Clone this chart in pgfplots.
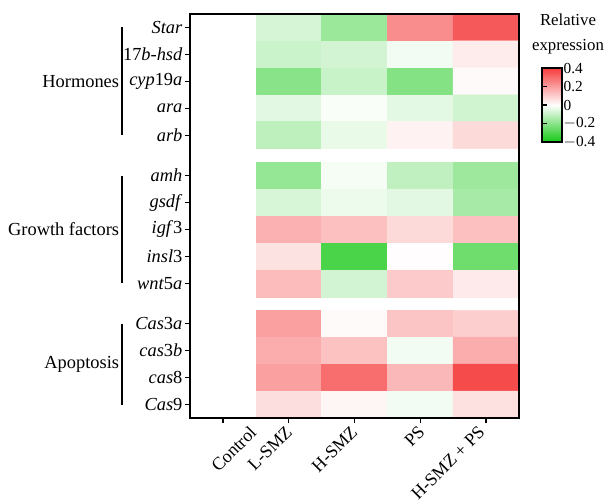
\documentclass[border=0pt]{standalone}
\usepackage{pgfplots}
\pgfplotsset{compat=1.18}
\usepackage{fontspec}
\setmainfont{Liberation Serif}
\pgfplotstableread{
x y v
0 0 0
1 0 -0.07
2 0 -0.17
3 0 0.236
4 0 0.34
0 1 0
1 1 -0.088
2 1 -0.077
3 1 -0.022
4 1 0.04
0 2 0
1 2 -0.20
2 2 -0.094
3 2 -0.21
4 2 0.01
0 3 0
1 3 -0.048
2 3 -0.01
3 3 -0.046
4 3 -0.08
0 4 0
1 4 -0.11
2 4 -0.037
3 4 0.027
4 4 0.076
}\hormones
\pgfplotstableread{
x y v
0 5.5 0
1 5.5 -0.18
2 5.5 -0.017
3 5.5 -0.107
4 5.5 -0.167
0 6.5 0
1 6.5 -0.068
2 6.5 -0.03
3 6.5 -0.05
4 6.5 -0.15
0 7.5 0
1 7.5 0.16
2 7.5 0.13
3 7.5 0.076
4 7.5 0.13
0 8.5 0
1 8.5 0.06
2 8.5 -0.31
3 8.5 0.005
4 8.5 -0.247
0 9.5 0
1 9.5 0.137
2 9.5 -0.077
3 9.5 0.11
4 9.5 0.043
}\growth
\pgfplotstableread{
x y v
0 11 0
1 11 0.195
2 11 0.01
3 11 0.12
4 11 0.10
0 12 0
1 12 0.17
2 12 0.125
3 12 -0.02
4 12 0.17
0 13 0
1 13 0.195
2 13 0.30
3 13 0.145
4 13 0.37
0 14 0
1 14 0.068
2 14 0.02
3 14 -0.022
4 14 0.064
}\apoptosis
\begin{document}
\begin{tikzpicture}
\path[use as bounding box] (-142.5pt,-62.25pt) rectangle (313.5pt,313.5pt);
\begin{axis}[
  at={(0pt,0pt)}, anchor=south west,
  scale only axis, width=246.75pt, height=303pt,
  xmin=-0.5, xmax=4.5, ymin=-0.5, ymax=14.5, y dir=reverse,
  axis on top,
  axis line style={line width=1.2pt},
  xtick={0,...,4}, xticklabels={},
  ytick={0,1,2,3,4,5.5,6.5,7.5,8.5,9.5,11,12,13,14},
  yticklabels={\textit{Star}, 17\textit{b-hsd}, \textit{cyp}19\textit{a}, \textit{ara}, \textit{arb}, \textit{amh}, \textit{gsdf}, \textit{igf}3, \textit{insl}3, \textit{wnt}5\textit{a}, \textit{Cas}3\textit{a}, \textit{cas}3\textit{b}, \textit{cas}8, \textit{Cas}9},
  tick align=outside, tick pos=left, major tick length=4pt,
  tick style={line width=1pt, black},
  yticklabel style={font=\fontsize{13.8}{16}\selectfont, inner sep=1.5pt},
  colormap={rg}{rgb255(0cm)=(20,200,20); rgb255(1cm)=(255,255,255); rgb255(2cm)=(245,60,60)},
  point meta min=-0.4, point meta max=0.4,
  colorbar,
  colorbar style={
    at={(1.0699,0.8663)}, anchor=north west,
    scale only axis, width=15pt, height=55.5pt,
    axis line style={line width=1.2pt},
    ytick={-0.4,-0.2,0,0.2,0.4},
    yticklabels={$-$0.4,$-$0.2,0,0.2,0.4},
    yticklabel pos=right,
    ytick pos=left,
    tick align=inside, major tick length=4pt,
    tick style={line width=1pt, black},
    yticklabel style={font=\fontsize{11.5}{12}\selectfont, inner sep=1pt},
  },
]
\addplot[matrix plot*, mesh/cols=5, point meta=explicit] table[x=x, y=y, meta=v] {\hormones};
\addplot[matrix plot*, mesh/cols=5, point meta=explicit] table[x=x, y=y, meta=v] {\growth};
\addplot[matrix plot*, mesh/cols=5, point meta=explicit] table[x=x, y=y, meta=v] {\apoptosis};
\end{axis}
% group brackets
\draw[line width=1.1pt] (-51pt,292.9pt) -- (-51pt,212.1pt);
\draw[line width=1.1pt] (-51pt,181.8pt) -- (-51pt,101pt);
\draw[line width=1.1pt] (-51pt,70.7pt) -- (-51pt,10.1pt);
\begin{scope}[every node/.style={font=\fontsize{13.8}{16}\selectfont, anchor=east, inner sep=0pt}]
\node at (-53pt,252.5pt) {Hormones};
\node at (-53pt,141.4pt) {Growth factors};
\node at (-53pt,40.4pt) {Apoptosis};
\end{scope}
% x labels
\begin{scope}[every node/.style={font=\fontsize{13.5}{16}\selectfont, rotate=45, anchor=north east, inner sep=0pt}]
\node at (44pt,-5pt) {Control};
\node at (71pt,-5pt) {L-SMZ};
\node at (120pt,-5pt) {H-SMZ};
\node at (170.5pt,-5pt) {PS};
\node at (215.5pt,-5pt) {H-SMZ + PS};
\end{scope}
% colorbar title
\node[align=center, font=\fontsize{12.6}{18.75}\selectfont] at (283.5pt,288pt) {Relative\\expression};
\end{tikzpicture}
\end{document}
